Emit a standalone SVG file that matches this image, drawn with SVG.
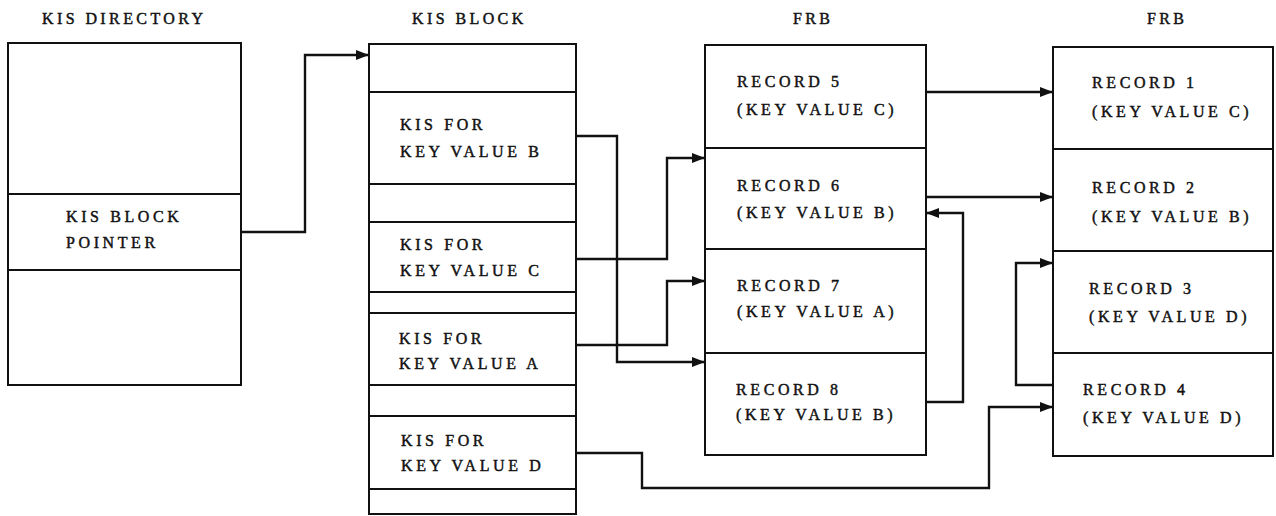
<svg xmlns="http://www.w3.org/2000/svg" width="1276" height="516" viewBox="0 0 1276 516">
  <style>
    .box { fill: #ffffff; stroke: #111111; stroke-width: 2; }
    .div { stroke: #111111; stroke-width: 2; }
    .lbl, .ttl { font-family: "Liberation Serif", "Times New Roman", serif; font-size: 16px; fill: #111111; stroke: #111111; stroke-width: 0.45px; }
    .lbl { letter-spacing: 3.6px; }
    .ttl { letter-spacing: 3.4px; }
    .wire { fill: none; stroke: #111111; stroke-width: 2.4; stroke-linejoin: miter; }
  </style>
  <defs>
    <marker id="arrow" markerUnits="userSpaceOnUse" markerWidth="14" markerHeight="11" refX="13" refY="5" orient="auto">
      <path d="M0,0 L13,5 L0,10 Z" fill="#111111"/>
    </marker>
  </defs>
  <rect width="1276" height="516" fill="#ffffff"/>

  <!-- column titles -->
  <g id="titles">
    <text class="ttl" x="42" y="24">KIS DIRECTORY</text>
    <text class="ttl" x="412" y="24">KIS BLOCK</text>
    <text class="ttl" x="793" y="24">FRB</text>
    <text class="ttl" x="1147" y="24">FRB</text>
  </g>

  <!-- directory -->
  <g id="kis-directory">
    <rect class="box" x="8" y="43" width="233" height="342"/>
    <line class="div" x1="8" y1="194" x2="241" y2="194"/>
    <line class="div" x1="8" y1="270" x2="241" y2="270"/>
    <text class="lbl" x="66" y="222">KIS BLOCK</text>
    <text class="lbl" x="66" y="248">POINTER</text>
  </g>

  <!-- KIS block with its entries -->
  <g id="kis-block">
    <rect class="box" x="369" y="44" width="207" height="470"/>
    <line class="div" x1="369" y1="92" x2="576" y2="92"/>
    <line class="div" x1="369" y1="184" x2="576" y2="184"/>
    <line class="div" x1="369" y1="222" x2="576" y2="222"/>
    <line class="div" x1="369" y1="292" x2="576" y2="292"/>
    <line class="div" x1="369" y1="313" x2="576" y2="313"/>
    <line class="div" x1="369" y1="385" x2="576" y2="385"/>
    <line class="div" x1="369" y1="416" x2="576" y2="416"/>
    <line class="div" x1="369" y1="489" x2="576" y2="489"/>
    <text class="lbl" x="400" y="130">KIS FOR</text>
    <text class="lbl" x="400" y="157">KEY VALUE B</text>
    <text class="lbl" x="400" y="250">KIS FOR</text>
    <text class="lbl" x="400" y="276">KEY VALUE C</text>
    <text class="lbl" x="399" y="344">KIS FOR</text>
    <text class="lbl" x="399" y="369">KEY VALUE A</text>
    <text class="lbl" x="401" y="446">KIS FOR</text>
    <text class="lbl" x="401" y="471">KEY VALUE D</text>
  </g>

  <!-- first FRB -->
  <g id="frb-1">
    <rect class="box" x="705" y="45" width="221" height="410"/>
    <line class="div" x1="705" y1="148" x2="926" y2="148"/>
    <line class="div" x1="705" y1="249" x2="926" y2="249"/>
    <line class="div" x1="705" y1="353" x2="926" y2="353"/>
    <text class="lbl" x="737" y="87">RECORD 5</text>
    <text class="lbl" x="737" y="115">(KEY VALUE C)</text>
    <text class="lbl" x="737" y="191">RECORD 6</text>
    <text class="lbl" x="737" y="218">(KEY VALUE B)</text>
    <text class="lbl" x="737" y="291">RECORD 7</text>
    <text class="lbl" x="737" y="317">(KEY VALUE A)</text>
    <text class="lbl" x="736" y="395">RECORD 8</text>
    <text class="lbl" x="736" y="420">(KEY VALUE B)</text>
  </g>

  <!-- second FRB -->
  <g id="frb-2">
    <rect class="box" x="1053" y="47" width="220" height="409"/>
    <line class="div" x1="1053" y1="149" x2="1273" y2="149"/>
    <line class="div" x1="1053" y1="251" x2="1273" y2="251"/>
    <line class="div" x1="1053" y1="353" x2="1273" y2="353"/>
    <text class="lbl" x="1092" y="88">RECORD 1</text>
    <text class="lbl" x="1092" y="117">(KEY VALUE C)</text>
    <text class="lbl" x="1092" y="193">RECORD 2</text>
    <text class="lbl" x="1092" y="222">(KEY VALUE B)</text>
    <text class="lbl" x="1089" y="294">RECORD 3</text>
    <text class="lbl" x="1089" y="322">(KEY VALUE D)</text>
    <text class="lbl" x="1083" y="395">RECORD 4</text>
    <text class="lbl" x="1083" y="423">(KEY VALUE D)</text>
  </g>

  <!-- pointers -->
  <g id="connectors">
    <path class="wire" marker-end="url(#arrow)" d="M241,232 H305 V55 H369"/>
    <path class="wire" marker-end="url(#arrow)" d="M576,136 H617 V362 H705"/>
    <path class="wire" marker-end="url(#arrow)" d="M576,259 H667 V158 H705"/>
    <path class="wire" marker-end="url(#arrow)" d="M576,345 H667 V281 H705"/>
    <path class="wire" marker-end="url(#arrow)" d="M576,453 H642 V488 H989 V407 H1053"/>
    <path class="wire" marker-end="url(#arrow)" d="M926,92 H1053"/>
    <path class="wire" marker-end="url(#arrow)" d="M926,197 H1053"/>
    <path class="wire" marker-end="url(#arrow)" d="M926,402 H963 V213 H926"/>
    <path class="wire" marker-end="url(#arrow)" d="M1053,385 H1016 V263 H1053"/>
  </g>
</svg>
